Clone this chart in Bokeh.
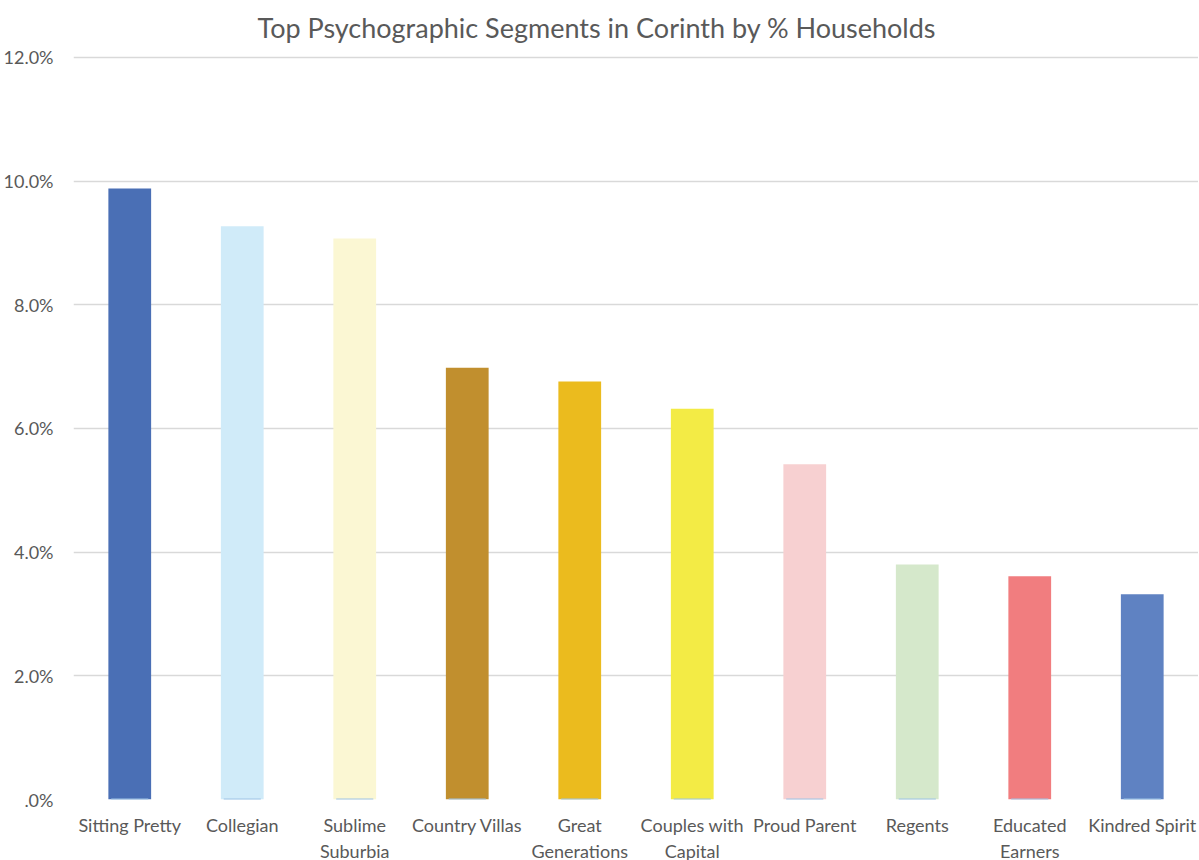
from bokeh.plotting import figure
from bokeh.models import ColumnDataSource, FixedTicker, Range1d
from bokeh.embed import file_html
from bokeh.resources import INLINE

segments = ["Sitting Pretty", "Collegian", "Sublime\nSuburbia", "Country Villas",
            "Great\nGenerations", "Couples with\nCapital", "Proud Parent", "Regents",
            "Educated\nEarners", "Kindred Spirit"]
share_pct = [9.88, 9.27, 9.07, 6.98, 6.76, 6.32, 5.42, 3.80, 3.61, 3.32]
baseline = [0, 0, 0, 0, 0, 0, 0, 0, 0, 0]
colors = ["#4A6FB5", "#D0EBF9", "#FBF7D3", "#C18F2E", "#EBBB1E",
          "#F3EB45", "#F7D0D1", "#D5E8CB", "#F17D7F", "#5F82C2"]
y_ticks = [0, 2, 4, 6, 8, 10, 12]
y_tick_labels = [".0%", "2.0%", "4.0%", "6.0%", "8.0%", "10.0%", "12.0%"]

src = ColumnDataSource(dict(seg=segments, val=share_pct, base=baseline, color=colors))

p = figure(x_range=segments, frame_width=1125, frame_height=744, output_backend="svg",
           toolbar_location=None, title="Top Psychographic Segments in Corinth by % Households")
p.y_range = Range1d(0, 12.03)
p.x_range.range_padding = 0

p.min_border_left = 66
p.min_border_right = 0
p.min_border_top = 54
p.min_border_bottom = 0

p.title.align = "left"
p.title.vertical_align = "top"
p.title.text_font = "Lato"
p.title.text_font_size = "27px"
p.title.text_font_style = "normal"
p.title.text_color = "#595959"
p.title.text_line_height = 0.7
p.title.offset = 184
p.title.standoff = 20

p.vbar(x="seg", top="val", width=0.38, source=src, fill_color="color", line_color=None)
p.vbar(x="seg", top="base", bottom="base", width=0.33, source=src,
       fill_color=None, line_color="#9DC3E6", line_width=2)

p.outline_line_color = None
p.xgrid.grid_line_color = None
p.ygrid.grid_line_color = "#D9D9D9"
p.ygrid.grid_line_width = 1.5
p.ygrid.ticker = FixedTicker(ticks=y_ticks)

p.yaxis.ticker = FixedTicker(ticks=y_ticks)
p.yaxis.major_label_overrides = {t: l for t, l in zip(y_ticks, y_tick_labels)}
p.yaxis.axis_line_color = None
p.yaxis.major_tick_line_color = None
p.yaxis.minor_tick_line_color = None
p.yaxis.major_label_text_font = "Lato"
p.yaxis.major_label_text_font_size = "18px"
p.yaxis.major_label_text_color = "#595959"
p.yaxis.major_label_standoff = 14

p.xaxis.axis_line_color = None
p.xaxis.major_tick_line_color = None
p.xaxis.major_label_text_font = "Lato"
p.xaxis.major_label_text_font_size = "18px"
p.xaxis.major_label_text_color = "#595959"
p.xaxis.major_label_standoff = 8

open("out.html", "w").write(file_html(p, INLINE))
